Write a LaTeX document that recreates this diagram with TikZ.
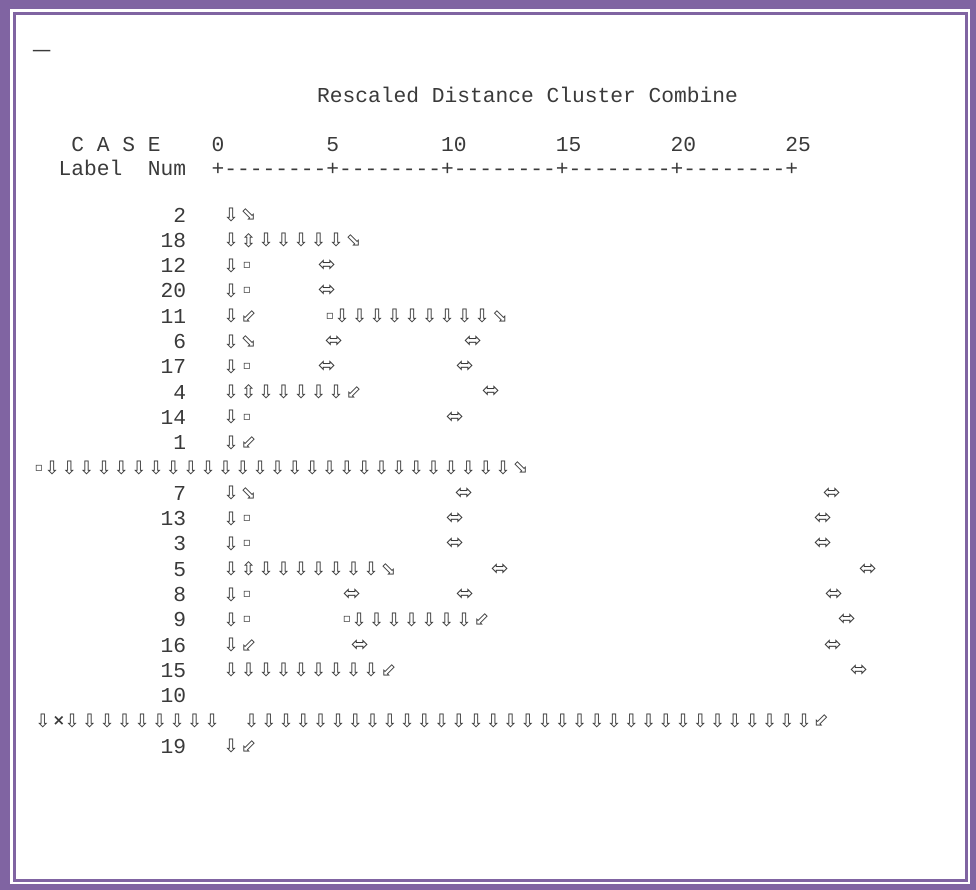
\documentclass[tikz,border=0pt]{standalone}
\usepackage{fontspec}
\newfontfamily\mono{Liberation Mono}
\newfontfamily\dv{DejaVu Sans}
\definecolor{framec}{HTML}{8064A2}
\definecolor{ink}{HTML}{3A3A3A}
\newcount\gcnt
\newcommand\glD{{\dv\fontsize{18.5}{18.5}\selectfont ⇩}}
\newcommand\glU{{\dv\fontsize{18.5}{18.5}\selectfont ⇳}}
\newcommand\glR{{\dv\fontsize{18.5}{18.5}\selectfont ⬂}}
\newcommand\glL{{\dv\fontsize{18.5}{18.5}\selectfont ⬃}}
\newcommand\glH{{\dv\fontsize{21}{21}\selectfont ⬄}}
\newcommand\glS{{\dv\fontsize{12}{12}\selectfont ▫}}
\newcommand\glX{{\dv\bfseries\fontsize{15}{15}\selectfont ×}}
\tikzset{
  txt/.style={font=\mono\fontsize{21.25}{24}\selectfont, text=ink, inner sep=0pt, outer sep=0pt},
  gl/.style={inner sep=0pt, outer sep=0pt, text=ink}
}
% glyph: x, row index, code
\newcommand\G[3]{\global\advance\gcnt by 1
  \node[gl] (g\the\gcnt) at ({#1},{215+25.3*(#2)}) {\csname gl#3\endcsname};}
% run of down arrows: x0, pitch, count, row index
\newcommand\Run[4]{\foreach \k in {1,...,#3} {\G{#1+#2*(\k-1)}{#4}{D}}}
\newcommand\cs[2]{\node[txt, anchor=east] (c#1) at (186.1,{215+25.3*(#2)}) {#1};}
\begin{document}
\begin{tikzpicture}[x=1pt,y=-1pt]
\useasboundingbox (0,0) rectangle (976,890);
% frame
\fill[framec] (0,0) rectangle (976,890);
\fill[white] (10,9) rectangle (970,884);
\draw[framec, line width=3pt] (14.5,13.5) rectangle (966.5,880.5);
% header
\node[txt, anchor=base west] (dash) at (33,57) {\scalebox{1.35}[1]{—}};
\node[txt, anchor=base west] (title) at (317,103) {Rescaled Distance Cluster Combine};
\node[txt, anchor=base west] (case) at (71.35,152) {C A S E};
\foreach \c/\t in {0/0,9/5,18/10,27/15,36/20,45/25}
  \node[txt, anchor=base west] (h\t) at ({211.6+12.75*\c},152) {\t};
\node[txt, anchor=base west] (label) at (58.6,176) {Label};
\node[txt, anchor=base west] (num) at (147.85,176) {Num};
\foreach \c in {0,...,45} {
  \pgfmathtruncatemacro\m{mod(\c,9)}
  \ifnum\m=0 \node[txt, anchor=base] (r\c) at ({211.6+12.75*(\c+0.5)},176) {+};
  \else \node[txt, anchor=base] (r\c) at ({211.6+12.75*(\c+0.5)},176) {-};\fi
}
% case numbers
\cs{2}{0}\cs{18}{1}\cs{12}{2}\cs{20}{3}\cs{11}{4}\cs{6}{5}\cs{17}{6}\cs{4}{7}\cs{14}{8}\cs{1}{9}
\cs{7}{11}\cs{13}{12}\cs{3}{13}\cs{5}{14}\cs{8}{15}\cs{9}{16}\cs{16}{17}\cs{15}{18}\cs{10}{19}\cs{19}{21}
% row 0 (2)
\G{231}{0}{D}\G{248.5}{0}{R}
% row 1 (18)
\G{231}{1}{D}\G{248.5}{1}{U}\Run{266}{17.5}{5}{1}\G{353.5}{1}{R}
% row 2 (12)
\G{231}{2}{D}\G{247}{2}{S}\G{327}{2}{H}
% row 3 (20)
\G{231}{3}{D}\G{247}{3}{S}\G{327}{3}{H}
% row 4 (11)
\G{231}{4}{D}\G{248.5}{4}{L}\G{330}{4}{S}\Run{342}{17.5}{9}{4}\G{500}{4}{R}
% row 5 (6)
\G{231}{5}{D}\G{248.5}{5}{R}\G{334}{5}{H}\G{473}{5}{H}
% row 6 (17)
\G{231}{6}{D}\G{247}{6}{S}\G{327}{6}{H}\G{465}{6}{H}
% row 7 (4)
\G{231}{7}{D}\G{248.5}{7}{U}\Run{266}{17.5}{5}{7}\G{353.5}{7}{L}\G{491}{7}{H}
% row 8 (14)
\G{231}{8}{D}\G{247}{8}{S}\G{455}{8}{H}
% row 9 (1)
\G{231}{9}{D}\G{248.5}{9}{L}
% row 10 long
\G{39}{10}{S}\Run{52}{17.35}{27}{10}\G{520.5}{10}{R}
% row 11 (7)
\G{231}{11}{D}\G{248.5}{11}{R}\G{464}{11}{H}\G{832}{11}{H}
% row 12 (13)
\G{231}{12}{D}\G{247}{12}{S}\G{455}{12}{H}\G{823}{12}{H}
% row 13 (3)
\G{231}{13}{D}\G{247}{13}{S}\G{455}{13}{H}\G{823}{13}{H}
% row 14 (5)
\G{231}{14}{D}\G{248.5}{14}{U}\Run{266}{17.5}{7}{14}\G{388.5}{14}{R}\G{500}{14}{H}\G{868}{14}{H}
% row 15 (8)
\G{231}{15}{D}\G{247}{15}{S}\G{352}{15}{H}\G{465}{15}{H}\G{834}{15}{H}
% row 16 (9)
\G{231}{16}{D}\G{247}{16}{S}\G{347}{16}{S}\Run{359}{17.5}{7}{16}\G{481.5}{16}{L}\G{847}{16}{H}
% row 17 (16)
\G{231}{17}{D}\G{248.5}{17}{L}\G{360}{17}{H}\G{833}{17}{H}
% row 18 (15)
\Run{231}{17.5}{9}{18}\G{388.5}{18}{L}\G{859}{18}{H}
% row 20 long
\G{43}{20}{D}\G{59}{20}{X}\Run{72}{17.5}{9}{20}\Run{251.7}{17.26}{33}{20}\G{821}{20}{L}
% row 21 (19)
\G{231}{21}{D}\G{248.5}{21}{L}
\end{tikzpicture}
\end{document}
